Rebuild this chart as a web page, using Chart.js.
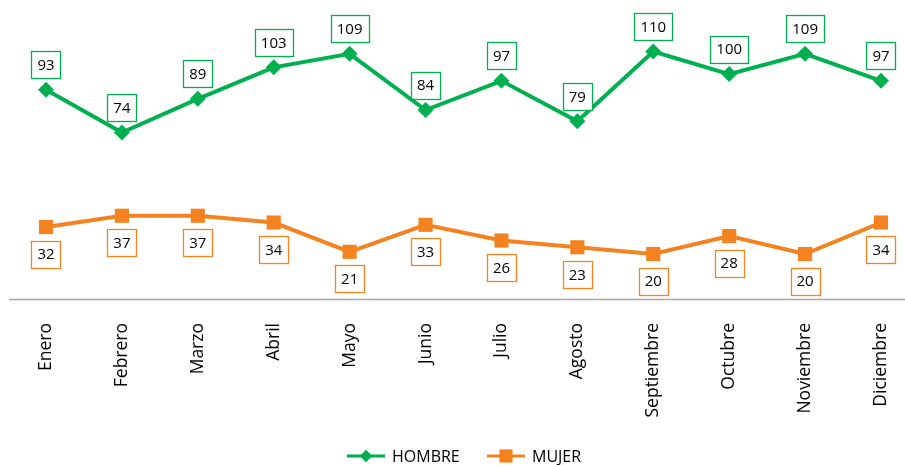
<!DOCTYPE html>
<html>
<head>
<meta charset="utf-8">
<script src="https://cdn.jsdelivr.net/npm/chart.js@4/dist/chart.umd.min.js"></script>
<style>
  html, body { margin: 0; padding: 0; background: #fff; }
  #wrap { width: 905px; height: 465px; }
</style>
</head>
<body>
<div id="wrap"><canvas id="chart" width="905" height="465"></canvas></div>
<script>
const meses = ['Enero', 'Febrero', 'Marzo', 'Abril', 'Mayo', 'Junio', 'Julio', 'Agosto', 'Septiembre', 'Octubre', 'Noviembre', 'Diciembre']
const hombre = [93, 74, 89, 103, 109, 84, 97, 79, 110, 100, 109, 97]
const mujer = [32, 37, 37, 34, 21, 33, 26, 23, 20, 28, 20, 34]

const VERDE = '#00B050'
const NARANJA = '#F58220'
const FONT = '"Open Sans", sans-serif'

// etiquetas con caja (arriba para HOMBRE, abajo para MUJER)
const etiquetas = {
    id: 'etiquetas',
    afterDatasetsDraw(chart) {
        const ctx = chart.ctx
        ctx.save()
        ctx.font = '15px ' + FONT
        ctx.textAlign = 'center'
        ctx.textBaseline = 'middle'
        chart.data.datasets.forEach((ds, i) => {
            const meta = chart.getDatasetMeta(i)
            meta.data.forEach((pt, j) => {
                const txt = String(ds.data[j])
                const w = ctx.measureText(txt).width + 12
                const h = 27
                const cy = i === 0 ? pt.y - 25 : pt.y + 27
                ctx.fillStyle = '#fff'
                ctx.fillRect(pt.x - w / 2, cy - h / 2, w, h)
                ctx.strokeStyle = ds.borderColor
                ctx.lineWidth = 1.3
                ctx.strokeRect(Math.round(pt.x - w / 2) + 0.5, Math.round(cy - h / 2) + 0.5, Math.round(w), h)
                ctx.fillStyle = '#000'
                ctx.fillText(txt, pt.x, cy + 1)
            })
        })
        ctx.restore()
    }
}

// línea del eje y leyenda propia
const ejeYLeyenda = {
    id: 'ejeYLeyenda',
    beforeDatasetsDraw(chart) {
        const ctx = chart.ctx
        const y = chart.scales.y.getPixelForValue(0)
        ctx.save()
        ctx.strokeStyle = '#A6A6A6'
        ctx.lineWidth = 1.3
        ctx.beginPath()
        ctx.moveTo(9, Math.round(y) + 0.5)
        ctx.lineTo(905, Math.round(y) + 0.5)
        ctx.stroke()
        ctx.restore()
    },
    afterDraw(chart) {
        const ctx = chart.ctx
        const items = [
            { label: 'HOMBRE', color: VERDE, style: 'rectRot', r: 6, x: 347 },
            { label: 'MUJER', color: NARANJA, style: 'rect', r: 9, x: 487 }
        ]
        const y = 456
        ctx.save()
        ctx.font = '16px ' + FONT
        ctx.textBaseline = 'middle'
        items.forEach(it => {
            ctx.strokeStyle = it.color
            ctx.lineWidth = 3
            ctx.beginPath()
            ctx.moveTo(it.x, y)
            ctx.lineTo(it.x + 38, y)
            ctx.stroke()
            ctx.fillStyle = it.color
            Chart.helpers.drawPoint(ctx, { pointStyle: it.style, radius: it.r, borderWidth: 0 }, it.x + 19, y)
            ctx.fill()
            ctx.fillStyle = '#000'
            ctx.fillText(it.label, it.x + 45, y + 1)
        })
        ctx.restore()
    }
}

new Chart(document.getElementById('chart'), {
    type: 'line',
    data: {
        labels: meses,
        datasets: [
            {
                label: 'HOMBRE',
                data: hombre,
                borderColor: VERDE,
                backgroundColor: VERDE,
                borderWidth: 4,
                pointStyle: 'rectRot',
                pointRadius: 8,
                pointBorderWidth: 0,
                tension: 0
            },
            {
                label: 'MUJER',
                data: mujer,
                borderColor: NARANJA,
                backgroundColor: NARANJA,
                borderWidth: 4,
                pointStyle: 'rect',
                pointRadius: 10,
                pointBorderWidth: 0,
                tension: 0
            }
        ]
    },
    options: {
        responsive: false,
        animation: false,
        layout: { padding: { left: 46, right: 24, top: 2, bottom: 0 } },
        plugins: {
            legend: { display: false },
            tooltip: { enabled: false }
        },
        scales: {
            x: {
                offset: false,
                grid: { display: false },
                border: { display: false },
                ticks: {
                    color: '#000',
                    font: { family: FONT, size: 17.5 },
                    minRotation: 90,
                    maxRotation: 90,
                    padding: 16
                },
                afterFit(scale) {
                    scale.height = 166
                    scale.paddingLeft = 0
                    scale.paddingRight = 0
                }
            },
            y: {
                display: false,
                min: 0,
                max: 128.5
            }
        }
    },
    plugins: [etiquetas, ejeYLeyenda]
})
</script>
</body>
</html>
